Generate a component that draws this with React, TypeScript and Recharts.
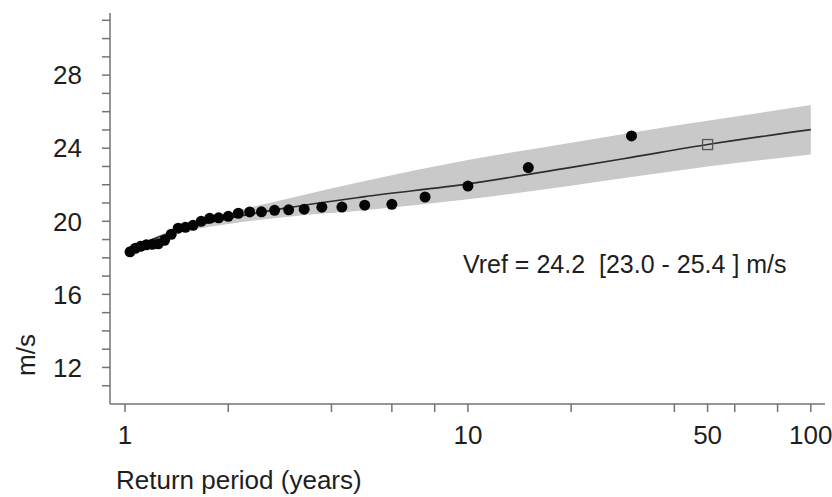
import { ComposedChart, Area, Line, Scatter, XAxis, YAxis, Label } from 'recharts';

// observed annual maxima, plotted at their return period (years) -> speed (m/s)
const obsPeriod = [
  30, 15, 10, 7.5, 6, 5, 4.29, 3.75, 3.33, 3, 2.73, 2.5, 2.31, 2.14, 2,
  1.875, 1.765, 1.667, 1.579, 1.5, 1.429, 1.364, 1.304, 1.25, 1.2, 1.154, 1.111, 1.071, 1.034,
];
const obsSpeed = [
  24.67, 22.94, 21.93, 21.33, 20.93, 20.88, 20.78, 20.77, 20.66, 20.63, 20.6, 20.52, 20.51, 20.44, 20.27,
  20.19, 20.16, 20.0, 19.78, 19.67, 19.62, 19.29, 18.96, 18.77, 18.74, 18.71, 18.63, 18.52, 18.33,
];

// fitted curve and its confidence band
const fitPeriod = [1.05, 1.2, 1.5, 2, 3, 5, 10, 20, 30, 50, 100];
const fitSpeed = [18.45, 19.0, 19.6, 20.15, 20.75, 21.35, 22.05, 22.95, 23.5, 24.2, 25.02];
const bandLow = [18.45, 18.95, 19.45, 19.85, 20.25, 20.6, 21.2, 21.95, 22.42, 23.0, 23.65];
const bandHigh = [18.45, 19.05, 19.75, 20.45, 21.25, 22.2, 23.35, 24.3, 24.85, 25.5, 26.36];

const vrefPeriod = [50];
const vrefSpeed = [24.2];

const xTicks = [1, 2, 4, 6, 8, 10, 20, 40, 50, 60, 80, 100];
const xLabels = [1, 10, 50, 100];
const yTicks = [11, 12, 13, 14, 15, 16, 17, 18, 19, 20, 21, 22, 23, 24, 25, 26, 27, 28, 29, 30, 31];
const yLabels = [12, 16, 20, 24, 28];

const obsData = obsPeriod.map((T, i) => ({ T, v: obsSpeed[i] }));
const fitData = fitPeriod.map((T, i) => ({ T, v: fitSpeed[i], band: [bandLow[i], bandHigh[i]] }));
const vrefData = vrefPeriod.map((T, i) => ({ T, v: vrefSpeed[i] }));

const FONT = '"Liberation Sans", Arial, Helvetica, sans-serif';
const AXIS = '#737373';
const TEXT = '#1e1e1e';

const Dot = (props: any) => <circle cx={props.cx} cy={props.cy} r={5.5} fill="#050505" />;
const Square = (props: any) => (
  <rect x={props.cx - 5} y={props.cy - 5} width={10} height={10} fill="none" stroke="#555" strokeWidth={1.3} />
);

export default function App() {
  return (
    <div style={{ position: 'absolute', left: 0, top: 0, width: 832, height: 497, background: '#fff' }}>
      <ComposedChart width={832} height={497} margin={{ top: 13, right: 7, bottom: 0, left: 0 }}>
        <XAxis
          dataKey="T"
          type="number"
          scale="log"
          domain={[0.904, 110]}
          allowDataOverflow
          ticks={xTicks}
          tickFormatter={(t: number) => (xLabels.includes(t) ? String(t) : '')}
          height={93}
          stroke={AXIS}
          strokeWidth={1.5}
          tickSize={8}
          tickMargin={14}
          tick={{ fontSize: 26, fill: TEXT, fontFamily: FONT }}
        >
          <Label
            value="Return period (years)"
            content={() => (
              <text x={116} y={489} fontSize={26} fill={TEXT} fontFamily={FONT}>
                Return period (years)
              </text>
            )}
          />
        </XAxis>
        <YAxis
          type="number"
          domain={[10, 31.4]}
          allowDataOverflow
          ticks={yTicks}
          interval={0}
          tickFormatter={(t: number) => (yLabels.includes(t) ? String(t) : '')}
          width={110}
          stroke={AXIS}
          strokeWidth={1.5}
          tickSize={8}
          tickMargin={20}
          tick={{ fontSize: 26, fill: TEXT, fontFamily: FONT }}
        >
          <Label
            value="m/s"
            content={() => (
              <text x={35} y={355} fontSize={26} fill={TEXT} fontFamily={FONT} textAnchor="middle" transform="rotate(-90 35 355)">
                m/s
              </text>
            )}
          />
        </YAxis>
        <Area
          data={fitData}
          dataKey="band"
          type="monotone"
          stroke="none"
          fill="#c9c9c9"
          fillOpacity={1}
          isAnimationActive={false}
        />
        <Line data={fitData} dataKey="v" type="monotone" stroke="#2e2e2e" strokeWidth={1.6} dot={false} isAnimationActive={false} />
        <Scatter data={vrefData} dataKey="v" shape={Square} isAnimationActive={false} />
        <Scatter data={obsData} dataKey="v" shape={Dot} isAnimationActive={false} />
      </ComposedChart>
      <div
        style={{
          position: 'absolute',
          left: 463,
          top: 250,
          fontFamily: FONT,
          fontSize: 25,
          color: TEXT,
          whiteSpace: 'pre',
        }}
      >
        {'Vref = 24.2  [23.0 - 25.4 ] m/s'}
      </div>
    </div>
  );
}
